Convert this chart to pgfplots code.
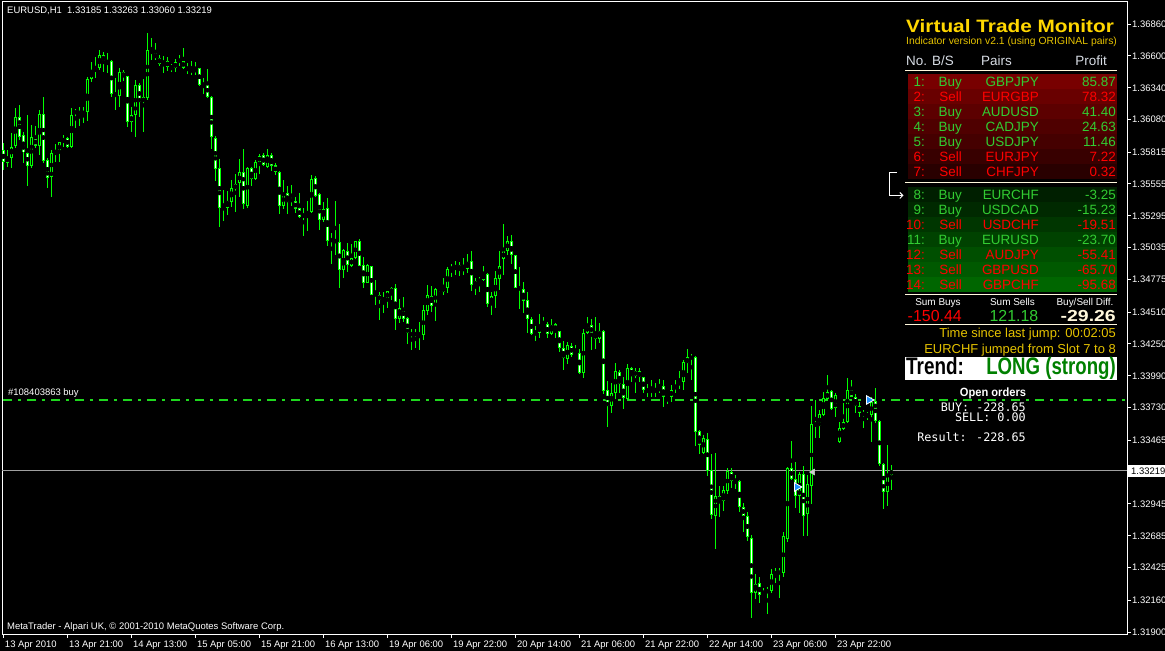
\documentclass[border=0pt]{standalone}
\usepackage{pgfplots}
\pgfplotsset{compat=1.18}
\usepackage{pgfplotstable}
\usepackage{fontspec}
\setmainfont{Liberation Sans}
\newfontfamily\monofont{DejaVu Sans Mono}
\usetikzlibrary{arrows.meta}

\definecolor{cand}{RGB}{0,255,0}
\definecolor{ordgreen}{RGB}{30,215,30}
\definecolor{buyg}{RGB}{50,205,50}
\definecolor{sellr}{RGB}{255,0,0}
\definecolor{titley}{RGB}{255,215,0}
\definecolor{goldy}{RGB}{230,195,0}
\definecolor{cream}{RGB}{255,248,220}
\definecolor{hdr}{RGB}{215,220,228}
\definecolor{arrowblue}{RGB}{30,144,255}
\definecolor{bidgray}{RGB}{160,160,160}
\definecolor{trendg}{RGB}{0,128,0}

\newcommand\fs[1]{\fontsize{#1}{#1}\selectfont}

% EURUSD H1 candles: bar index, open, high, low, close
\pgfplotstableread{
i o h l c
0 1.35832 1.35887 1.35669 1.35737
1 1.35729 1.35832 1.35696 1.35778
2 1.35770 1.35969 1.35683 1.35859
3 1.35865 1.36172 1.35846 1.36104
4 1.36104 1.36199 1.35914 1.35941
5 1.35955 1.35982 1.35724 1.35813
6 1.35813 1.36118 1.35541 1.35704
7 1.35704 1.36036 1.35683 1.35936
8 1.35928 1.36028 1.35846 1.35867
9 1.35867 1.36159 1.35792 1.36124
10 1.36124 1.36267 1.35724 1.35745
11 1.35751 1.35765 1.35520 1.35601
12 1.35610 1.35832 1.35446 1.35810
13 1.35810 1.35881 1.35737 1.35824
14 1.35813 1.35900 1.35737 1.35895
15 1.35895 1.35955 1.35859 1.35933
16 1.35933 1.35941 1.35854 1.35859
17 1.35859 1.36172 1.35853 1.36118
18 1.36132 1.36167 1.36014 1.36150
19 1.36132 1.36181 1.36028 1.36140
20 1.36140 1.36181 1.36050 1.36132
21 1.36140 1.36430 1.36071 1.36412
22 1.36412 1.36553 1.36390 1.36477
23 1.36477 1.36589 1.36417 1.36499
24 1.36499 1.36648 1.36485 1.36607
25 1.36607 1.36629 1.36471 1.36553
26 1.36558 1.36621 1.36463 1.36548
27 1.36558 1.36572 1.36267 1.36287
28 1.36275 1.36417 1.36159 1.36287
29 1.36275 1.36499 1.36186 1.36471
30 1.36471 1.36485 1.36398 1.36425
31 1.36434 1.36440 1.36018 1.36063
32 1.36063 1.36186 1.35982 1.36115
33 1.36115 1.36403 1.35941 1.36363
34 1.36363 1.36381 1.36099 1.36226
35 1.36221 1.36412 1.35982 1.36262
36 1.36254 1.36784 1.36240 1.36648
37 1.36654 1.36744 1.36566 1.36613
38 1.36621 1.36703 1.36566 1.36580
39 1.36580 1.36607 1.36520 1.36534
40 1.36540 1.36602 1.36463 1.36558
41 1.36558 1.36593 1.36477 1.36512
42 1.36518 1.36534 1.36469 1.36496
43 1.36499 1.36575 1.36471 1.36550
44 1.36553 1.36607 1.36518 1.36566
45 1.36561 1.36662 1.36491 1.36501
46 1.36507 1.36545 1.36452 1.36479
47 1.36479 1.36558 1.36444 1.36485
48 1.36471 1.36550 1.36444 1.36499
49 1.36499 1.36505 1.36354 1.36363
50 1.36360 1.36422 1.36289 1.36376
51 1.36376 1.36491 1.36260 1.36267
52 1.36267 1.36273 1.35841 1.35936
53 1.35933 1.35946 1.35582 1.35677
54 1.35683 1.35756 1.35207 1.35357
55 1.35362 1.35506 1.35256 1.35351
56 1.35357 1.35500 1.35302 1.35416
57 1.35406 1.35587 1.35370 1.35520
58 1.35514 1.35637 1.35329 1.35555
59 1.35561 1.35756 1.35451 1.35650
60 1.35650 1.35838 1.35351 1.35389
61 1.35378 1.35689 1.35362 1.35683
62 1.35683 1.35696 1.35539 1.35593
63 1.35593 1.35751 1.35587 1.35734
64 1.35734 1.35800 1.35637 1.35783
65 1.35789 1.35805 1.35702 1.35708
66 1.35696 1.35838 1.35689 1.35792
67 1.35792 1.35805 1.35663 1.35704
68 1.35708 1.35729 1.35628 1.35650
69 1.35653 1.35661 1.35310 1.35378
70 1.35378 1.35587 1.35357 1.35479
71 1.35479 1.35539 1.35310 1.35410
72 1.35419 1.35547 1.35375 1.35430
73 1.35416 1.35451 1.35321 1.35351
74 1.35357 1.35479 1.35281 1.35288
75 1.35288 1.35357 1.35131 1.35308
76 1.35304 1.35416 1.35174 1.35332
77 1.35329 1.35628 1.35322 1.35596
78 1.35601 1.35620 1.35453 1.35460
79 1.35473 1.35484 1.35180 1.35261
80 1.35261 1.35410 1.35247 1.35351
81 1.35357 1.35438 1.35049 1.35092
82 1.35092 1.35153 1.34902 1.35104
83 1.35104 1.35416 1.34976 1.35076
84 1.35079 1.35234 1.34709 1.34853
85 1.34853 1.35027 1.34786 1.35017
86 1.35008 1.35071 1.34839 1.34894
87 1.34888 1.35063 1.34880 1.34949
88 1.34949 1.35094 1.34941 1.35090
89 1.35090 1.35104 1.34882 1.34888
90 1.34894 1.34962 1.34704 1.34750
91 1.34750 1.34900 1.34745 1.34894
92 1.34886 1.34890 1.34649 1.34652
93 1.34644 1.34772 1.34568 1.34663
94 1.34647 1.34676 1.34445 1.34609
95 1.34603 1.34671 1.34505 1.34623
96 1.34614 1.34682 1.34541 1.34680
97 1.34668 1.34717 1.34609 1.34704
98 1.34704 1.34739 1.34364 1.34454
99 1.34454 1.34614 1.34418 1.34541
100 1.34541 1.34631 1.34432 1.34454
101 1.34459 1.34468 1.34250 1.34337
102 1.34337 1.34370 1.34201 1.34326
103 1.34326 1.34370 1.34215 1.34337
104 1.34337 1.34427 1.34201 1.34326
105 1.34321 1.34568 1.34282 1.34527
106 1.34521 1.34731 1.34486 1.34649
107 1.34644 1.34723 1.34513 1.34562
108 1.34562 1.34704 1.34440 1.34696
109 1.34696 1.34715 1.34674 1.34698
110 1.34676 1.34786 1.34649 1.34712
111 1.34712 1.34880 1.34668 1.34861
112 1.34859 1.34900 1.34799 1.34875
113 1.34867 1.34927 1.34813 1.34888
114 1.34892 1.34921 1.34804 1.34859
115 1.34856 1.34949 1.34813 1.34867
116 1.34861 1.34981 1.34826 1.34916
117 1.34927 1.35008 1.34684 1.34731
118 1.34725 1.34786 1.34649 1.34764
119 1.34764 1.34799 1.34676 1.34772
120 1.34772 1.34886 1.34764 1.34821
121 1.34821 1.34825 1.34554 1.34574
122 1.34574 1.34676 1.34486 1.34644
123 1.34644 1.34845 1.34546 1.34786
124 1.34782 1.35008 1.34690 1.34886
125 1.34945 1.35229 1.34813 1.35008
126 1.35011 1.35131 1.34976 1.35090
127 1.35090 1.35139 1.34902 1.34973
128 1.34973 1.34976 1.34704 1.34709
129 1.34712 1.34875 1.34535 1.34696
130 1.34698 1.34753 1.34505 1.34603
131 1.34609 1.34671 1.34341 1.34451
132 1.34454 1.34468 1.34326 1.34331
133 1.34337 1.34396 1.34274 1.34356
134 1.34341 1.34494 1.34298 1.34396
135 1.34388 1.34468 1.34378 1.34410
136 1.34410 1.34432 1.34303 1.34329
137 1.34334 1.34454 1.34323 1.34405
138 1.34410 1.34418 1.34298 1.34358
139 1.34356 1.34360 1.34187 1.34215
140 1.34215 1.34274 1.34038 1.34133
141 1.34130 1.34268 1.34087 1.34241
142 1.34236 1.34255 1.34146 1.34160
143 1.34160 1.34241 1.34156 1.34182
144 1.34174 1.34209 1.34003 1.34016
145 1.34016 1.34372 1.33975 1.34337
146 1.34337 1.34472 1.34331 1.34405
147 1.34405 1.34454 1.34201 1.34331
148 1.34337 1.34468 1.34209 1.34288
149 1.34293 1.34423 1.34255 1.34358
150 1.34358 1.34366 1.33842 1.33869
151 1.33874 1.33948 1.33575 1.33746
152 1.33746 1.33934 1.33689 1.33848
153 1.33848 1.34097 1.33801 1.34029
154 1.34024 1.34038 1.33848 1.33921
155 1.33923 1.33978 1.33719 1.33812
156 1.33801 1.34087 1.33793 1.34051
157 1.34051 1.34064 1.33942 1.33991
158 1.33991 1.34056 1.33852 1.34029
159 1.34029 1.34056 1.33942 1.33978
160 1.33978 1.33983 1.33852 1.33874
161 1.33874 1.33923 1.33820 1.33860
162 1.33860 1.33956 1.33820 1.33874
163 1.33874 1.33929 1.33820 1.33860
164 1.33869 1.33964 1.33852 1.33896
165 1.33907 1.33956 1.33733 1.33815
166 1.33815 1.33834 1.33760 1.33825
167 1.33820 1.33915 1.33779 1.33874
168 1.33880 1.33956 1.33848 1.33915
169 1.33921 1.34029 1.33880 1.33937
170 1.33937 1.34119 1.33874 1.34100
171 1.34092 1.34209 1.34016 1.34141
172 1.34133 1.34168 1.33956 1.34146
173 1.34146 1.34151 1.33422 1.33533
174 1.33544 1.33552 1.33353 1.33429
175 1.33362 1.33511 1.33353 1.33484
176 1.33476 1.33521 1.33173 1.33214
177 1.33222 1.33353 1.32819 1.32855
178 1.32849 1.33365 1.32577 1.33010
179 1.33010 1.33091 1.32841 1.32963
180 1.32971 1.33091 1.32890 1.33059
181 1.33053 1.33236 1.33024 1.33214
182 1.33206 1.33236 1.33072 1.33134
183 1.33126 1.33181 1.33072 1.33146
184 1.33132 1.33140 1.32882 1.32922
185 1.32917 1.32950 1.32714 1.32849
186 1.32849 1.32882 1.32642 1.32678
187 1.32664 1.32697 1.32012 1.32221
188 1.32216 1.32373 1.32167 1.32292
189 1.32297 1.32351 1.32134 1.32202
190 1.32194 1.32262 1.32183 1.32216
191 1.32216 1.32270 1.32047 1.32251
192 1.32234 1.32412 1.32216 1.32373
193 1.32371 1.32420 1.32297 1.32392
194 1.32379 1.32420 1.32180 1.32392
195 1.32379 1.32714 1.32351 1.32683
196 1.32659 1.33249 1.32637 1.33241
197 1.33241 1.33458 1.33140 1.33148
198 1.33146 1.33285 1.32914 1.33012
199 1.33012 1.33208 1.32868 1.33187
200 1.33189 1.33254 1.32683 1.32849
201 1.32863 1.33181 1.32683 1.33108
202 1.33094 1.33746 1.32944 1.33595
203 1.33583 1.33793 1.33484 1.33603
204 1.33583 1.33711 1.33484 1.33676
205 1.33670 1.33860 1.33662 1.33807
206 1.33801 1.33996 1.33797 1.33860
207 1.33866 1.33874 1.33711 1.33722
208 1.33730 1.33848 1.33656 1.33834
209 1.33448 1.33616 1.33440 1.33562
210 1.33556 1.33766 1.33552 1.33616
211 1.33611 1.33970 1.33603 1.33874
212 1.33880 1.33956 1.33815 1.33820
213 1.33820 1.33842 1.33684 1.33746
214 1.33746 1.33779 1.33652 1.33689
215 1.33665 1.33711 1.33567 1.33692
216 1.33665 1.33697 1.33630 1.33676
217 1.33670 1.33820 1.33452 1.33779
218 1.33787 1.33889 1.33603 1.33622
219 1.33622 1.33630 1.33254 1.33268
220 1.33268 1.33276 1.32904 1.33045
221 1.33045 1.33426 1.32928 1.33175
222 1.33185 1.33263 1.33060 1.33219
}\candles

\begin{document}
\begin{tikzpicture}
\fill[black] (-2bp,-17bp) rectangle (1163bp,634bp);
\begin{axis}[
    at={(0,0)}, anchor=south west,
    scale only axis, width=1125bp, height=632bp,
    xmin=-0.325, xmax=280.925,
    ymin=1.318838, ymax=1.370397,
    axis background/.style={fill=black},
    axis line style={white, line width=1bp},
    tick style={white, line width=1bp},
    tick align=outside, major tick length=3.5bp,
    xtick pos=left, ytick pos=right,
    yticklabel pos=right,
    xtick={0,16,...,208},
    xticklabels={13 Apr 2010, 13 Apr 21:00, 14 Apr 13:00, 15 Apr 05:00,
      15 Apr 21:00, 16 Apr 13:00, 19 Apr 06:00, 19 Apr 22:00, 20 Apr 14:00,
      21 Apr 06:00, 21 Apr 22:00, 22 Apr 14:00, 23 Apr 06:00, 23 Apr 22:00},
    ytick={1.319,1.3216,1.32425,1.32685,1.32945,1.33465,1.3373,1.3399,1.3425,
      1.3451,1.34775,1.35035,1.35295,1.35555,1.35815,1.3608,1.3634,1.366,1.3686},
    yticklabels={1.31900,1.32160,1.32425,1.32685,1.32945,1.33465,1.33730,1.33990,
      1.34250,1.34510,1.34775,1.35035,1.35295,1.35555,1.35815,1.36080,1.36340,
      1.36600,1.36860},
    tick label style={text=white, font=\fs{9.5}, inner sep=0pt},
    xticklabel style={anchor=north west, xshift=1.5bp, yshift=-3bp},
    yticklabel style={anchor=west, xshift=1.5bp},
]
% open order line and bid line
\addplot[draw=ordgreen, line width=1.3bp, dash pattern=on 9bp off 6bp on 3bp off 6bp]
  coordinates {(-0.1,1.33793) (280.925,1.33793)};
\addplot[draw=bidgray, line width=1bp] coordinates {(-0.325,1.33219) (280.925,1.33219)};

% wicks
\addplot[only marks, mark=none,
  error bars/.cd, y dir=both, y explicit, error mark=none,
  error bar style={cand, line width=1bp}]
  table[x=i, y expr={(\thisrow{h}+\thisrow{l})/2},
        y error expr={(\thisrow{h}-\thisrow{l})/2}] {\candles};
% bodies
\addplot[only marks, mark=none,
  error bars/.cd, y dir=both, y explicit, error mark=none,
  error bar style={cand, line width=3bp}]
  table[x=i, y expr={(\thisrow{o}+\thisrow{c})/2},
        y error expr={max(abs(\thisrow{o}-\thisrow{c})/2,0.00005)}] {\candles};
% bull bodies: black inside
\addplot[only marks, mark=none,
  restrict expr to domain={\thisrow{c}-\thisrow{o}}{0.0002:1},
  error bars/.cd, y dir=both, y explicit, error mark=none,
  error bar style={black, line width=1bp}]
  table[x=i, y expr={(\thisrow{o}+\thisrow{c})/2},
        y error expr={abs(\thisrow{o}-\thisrow{c})/2-0.00008}] {\candles};
% bear bodies: white inside
\addplot[only marks, mark=none,
  restrict expr to domain={\thisrow{o}-\thisrow{c}}{0.0002:1},
  error bars/.cd, y dir=both, y explicit, error mark=none,
  error bar style={white, line width=1bp}]
  table[x=i, y expr={(\thisrow{o}+\thisrow{c})/2},
        y error expr={abs(\thisrow{o}-\thisrow{c})/2-0.00008}] {\candles};

% trade arrows
\addplot[only marks, mark=triangle*, mark size=5bp,
  mark options={rotate=-90, fill=arrowblue, draw=white, line width=0.8bp}]
  coordinates {(198.4,1.33083) (216.4,1.33793)};
\addplot[only marks, mark=triangle*, mark size=3.5bp,
  mark options={rotate=90, fill=white!80!black, draw=white!80!black}]
  coordinates {(202.4,1.33205)};
\end{axis}

% overlays in screen pixels (x right, y down)
\begin{scope}[x=1bp, y=-1bp, shift={(-2bp,634bp)}, every node/.style={inner sep=0pt}]
  \node[anchor=base west, text=white, font=\fs{9.5}] at (7,14)
    {EURUSD,H1\ \ 1.33185 1.33263 1.33060 1.33219};
  \node[anchor=base west, text=white, font=\fs{9.5}] at (7,630)
    {MetaTrader - Alpari UK, © 2001-2010 MetaQuotes Software Corp.};
  \node[anchor=base west, text=white, font=\fs{9.5}] at (8,396) {\#108403863 buy};
  % bid label
  \fill[white] (1128,465) rectangle (1165,477);
  \node[anchor=base west, text=black, font=\fs{9.5}] at (1131,474.5) {1.33219};

  % monitor panel
  \node[anchor=base west, text=titley, font=\fs{18}\bfseries] at (906,32.5)
    {\scalebox{1.16}[1]{Virtual Trade Monitor}};
  \node[anchor=base west, text=goldy, font=\fs{10.4}] at (906,44.5)
    {Indicator version v2.1 (using ORIGINAL pairs)};
  \node[anchor=base west, text=hdr, font=\fs{13.5}] at (906,65.5) {No. B/S};
  \node[anchor=base west, text=hdr, font=\fs{13.5}] at (981,65.5) {Pairs};
  \node[anchor=base east, text=hdr, font=\fs{13.5}] at (1107,65.5) {Profit};
  \draw[cream, line width=1bp] (905,70.5) -- (1117,70.5);

  \foreach \k/\p in {0/47,1/41,2/36,3/31,4/27,5/22,6/16}
    \fill[red!\p!black] (908,74+15*\k) rectangle (1117,89+15*\k);
  \draw[cream, line width=1bp] (905,183) -- (1117,183);
  \foreach \k/\p in {0/12,1/16,2/21,3/26,4/31,5/35,6/40}
    \fill[green!\p!black] (908,187+15*\k) rectangle (1117,202+15*\k);
  \draw[cream, line width=1bp] (905,295) -- (1117,295);

  \foreach \yy/\n/\bs/\pr/\val/\col in {
      87/1/Buy/GBPJPY/85.87/buyg, 102/2/Sell/EURGBP/78.32/sellr,
      117/3/Buy/AUDUSD/41.40/buyg, 132/4/Buy/CADJPY/24.63/buyg,
      147/5/Buy/USDJPY/11.46/buyg, 162/6/Sell/EURJPY/7.22/sellr,
      177/7/Sell/CHFJPY/0.32/sellr, 200/8/Buy/EURCHF/-3.25/buyg,
      215/9/Buy/USDCAD/-15.23/buyg, 230/10/Sell/USDCHF/-19.51/sellr,
      245/11/Buy/EURUSD/-23.70/buyg, 260/12/Sell/AUDJPY/-55.41/sellr,
      275/13/Sell/GBPUSD/-65.70/sellr, 290/14/Sell/GBPCHF/-95.68/sellr}{
    \node[anchor=base east, text=\col, font=\fs{13.5}] at (925,\yy) {\n:};
    \node[anchor=base east, text=\col, font=\fs{13.5}] at (962,\yy) {\bs};
    \node[anchor=base east, text=\col, font=\fs{13.5}] at (1039,\yy) {\pr};
    \node[anchor=base east, text=\col, font=\fs{13.5}] at (1116,\yy) {\val};
  }
  % jump bracket
  \draw[white, line width=1bp] (897,172.5) -- (889.5,172.5) -- (889.5,195.5);
  \draw[white, line width=1bp, -{Straight Barb[length=3bp, width=6bp]}]
    (889,195.5) -- (903.5,195.5);

  % sums
  \node[anchor=base, text=white, font=\fs{10}] at (938,305.5) {Sum Buys};
  \node[anchor=base, text=white, font=\fs{10}] at (1012.5,305.5) {Sum Sells};
  \node[anchor=base, text=white, font=\fs{10}] at (1085,305.5) {Buy/Sell Diff.};
  \node[anchor=base east, text=sellr, font=\fs{16}] at (962,321.5) {-150.44};
  \node[anchor=base east, text=buyg, font=\fs{16}] at (1038.5,321.5) {121.18};
  \node[anchor=base east, text=cream, font=\fs{16}\bfseries] at (1116,321.5)
    {\scalebox{1.22}[1]{-29.26}};
  \draw[cream, line width=1bp] (905,324.5) -- (1117,324.5);
  \node[anchor=base east, text=goldy, font=\fs{13}] at (1116,338)
    {Time since last jump: 00:02:05};
  \node[anchor=base east, text=goldy, font=\fs{13}] at (1116,353.5)
    {EURCHF jumped from Slot 7 to 8};
  % trend box
  \fill[white] (905,357) rectangle (1117,380);
  \node[anchor=base west, text=black, font=\fs{24}\bfseries] at (906,375)
    {\scalebox{0.79}[1]{Trend:}};
  \node[anchor=base east, text=trendg, font=\fs{24}\bfseries] at (1116,375)
    {\scalebox{0.78}[1]{LONG (strong)}};
  % open orders
  \node[anchor=base, text=white, font=\fs{12}\bfseries] at (993,397)
    {\scalebox{0.93}[1]{Open orders}};
  \node[anchor=base east, text=white, font=\monofont\fs{11.8}] at (1026,411.5) {BUY: -228.65};
  \node[anchor=base east, text=white, font=\monofont\fs{11.8}] at (1026,421.5) {SELL: 0.00};
  \node[anchor=base east, text=white, font=\monofont\fs{11.8}] at (1026,441.5) {Result: -228.65};
\end{scope}
\pgfresetboundingbox
\path[use as bounding box] (-2bp,-17bp) rectangle (1163bp,634bp);
\end{tikzpicture}
\end{document}
